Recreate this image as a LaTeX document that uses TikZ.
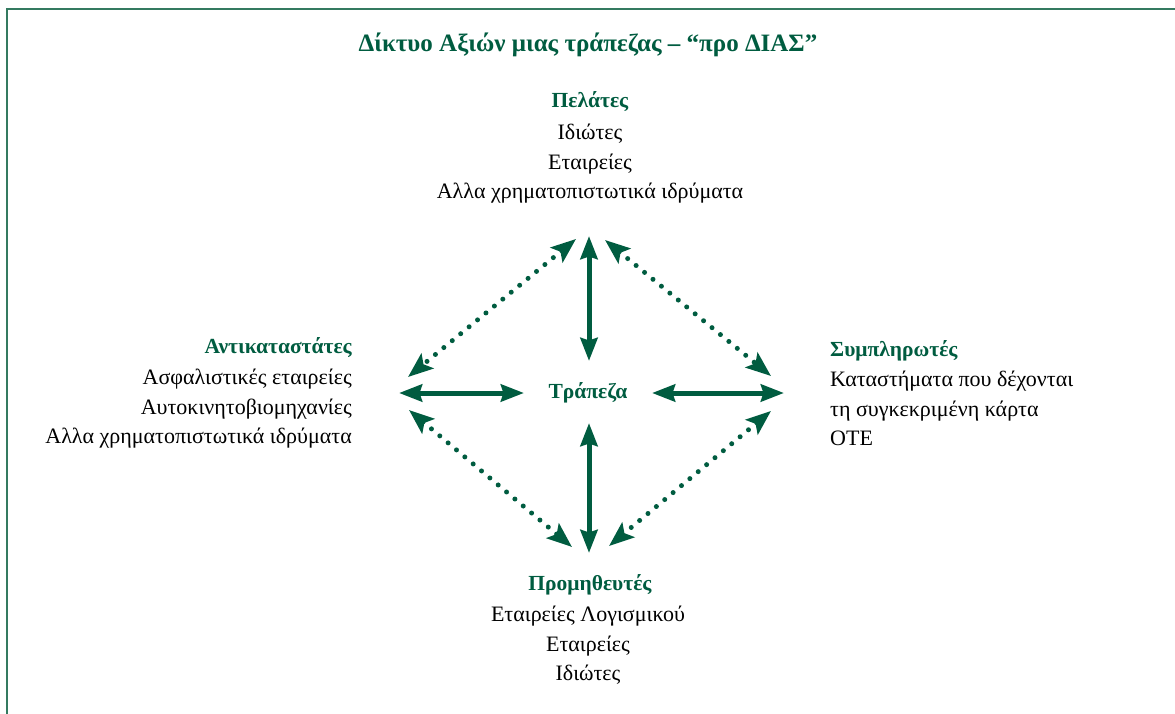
\documentclass[tikz,border=0pt]{standalone}
\usepackage{fontspec}
\setmainfont{Liberation Serif}
\usetikzlibrary{arrows.meta}

\definecolor{bankgreen}{RGB}{0,92,64}
\definecolor{framegreen}{RGB}{52,122,96}

\tikzset{
  title/.style={font=\fontsize{25}{30}\selectfont\bfseries, text=bankgreen, inner sep=0pt},
  heading/.style={font=\fontsize{21.5}{26}\selectfont\bfseries, text=bankgreen, inner sep=0pt},
  listtext/.style={font=\fontsize{22}{29.5}\selectfont, inner sep=0pt},
  link/.style={draw=bankgreen, line width=5pt, {Stealth[length=23pt,width=17pt,inset=2.5pt]}-{Stealth[length=23pt,width=17pt,inset=2.5pt]}},
  dotlink/.style={draw=bankgreen, line width=5pt, line cap=round,
    dash pattern=on 0pt off 10.9pt,
    {Stealth[length=25pt,width=19pt,inset=5pt]}-{Stealth[length=25pt,width=19pt,inset=5pt]}},
}

\begin{document}
\begin{tikzpicture}[x=1pt,y=-1pt]
  \useasboundingbox (0,0) rectangle (1175,714);

  % frame (top and left edges)
  \draw[framegreen, line width=2pt] (7,714) -- (7,9) -- (1175,9);

  % title
  \node[title, anchor=base] (title) at (588,52) {Δίκτυο Αξιών μιας τράπεζας – “προ ΔΙΑΣ”};

  % customers
  \node[heading, anchor=base] (pel) at (590,108) {Πελάτες};
  \node[listtext, anchor=north, align=center] (pellist) at (590,124)
    {Ιδιώτες\\Εταιρείες\\Αλλα χρηματοπιστωτικά ιδρύματα};

  % substitutes
  \node[heading, anchor=base east] (ant) at (352,353) {Αντικαταστάτες};
  \node[listtext, anchor=north east, align=right] (antlist) at (352,369)
    {Ασφαλιστικές εταιρείες\\Αυτοκινητοβιομηχανίες\\Αλλα χρηματοπιστωτικά ιδρύματα};

  % complementors
  \node[heading, anchor=base west] (sym) at (830,356) {Συμπληρωτές};
  \node[listtext, anchor=north west, align=left] (symlist) at (830,371)
    {Καταστήματα που δέχονται\\τη συγκεκριμένη κάρτα\\ΟΤΕ};

  % suppliers
  \node[heading, anchor=base] (pro) at (590,590) {Προμηθευτές};
  \node[listtext, anchor=north, align=center] (prolist) at (588,606)
    {Εταιρείες Λογισμικού\\Εταιρείες\\Ιδιώτες};

  % the bank
  \node[heading, anchor=base] (bank) at (588,398) {Τράπεζα};

  % arrow end points
  \coordinate (vt1) at (589,236);
  \coordinate (vt2) at (589,361);
  \coordinate (vb1) at (589,423);
  \coordinate (vb2) at (589,553);
  \coordinate (hl1) at (399,393);
  \coordinate (hl2) at (524,393);
  \coordinate (hr1) at (652,393);
  \coordinate (hr2) at (784,393);
  \coordinate (tl1) at (576,239);
  \coordinate (tl2) at (408,377);
  \coordinate (tr1) at (605,240);
  \coordinate (tr2) at (771,376);
  \coordinate (bl1) at (409,410);
  \coordinate (bl2) at (572,547);
  \coordinate (br1) at (771,411);
  \coordinate (br2) at (609,546);

  % direct links
  \draw[link] (vt1) -- (vt2);
  \draw[link] (vb1) -- (vb2);
  \draw[link] (hl1) -- (hl2);
  \draw[link] (hr1) -- (hr2);

  % indirect links
  \draw[dotlink] (tl1) -- (tl2);
  \draw[dotlink] (tr1) -- (tr2);
  \draw[dotlink] (bl1) -- (bl2);
  \draw[dotlink] (br1) -- (br2);
\end{tikzpicture}
\end{document}
